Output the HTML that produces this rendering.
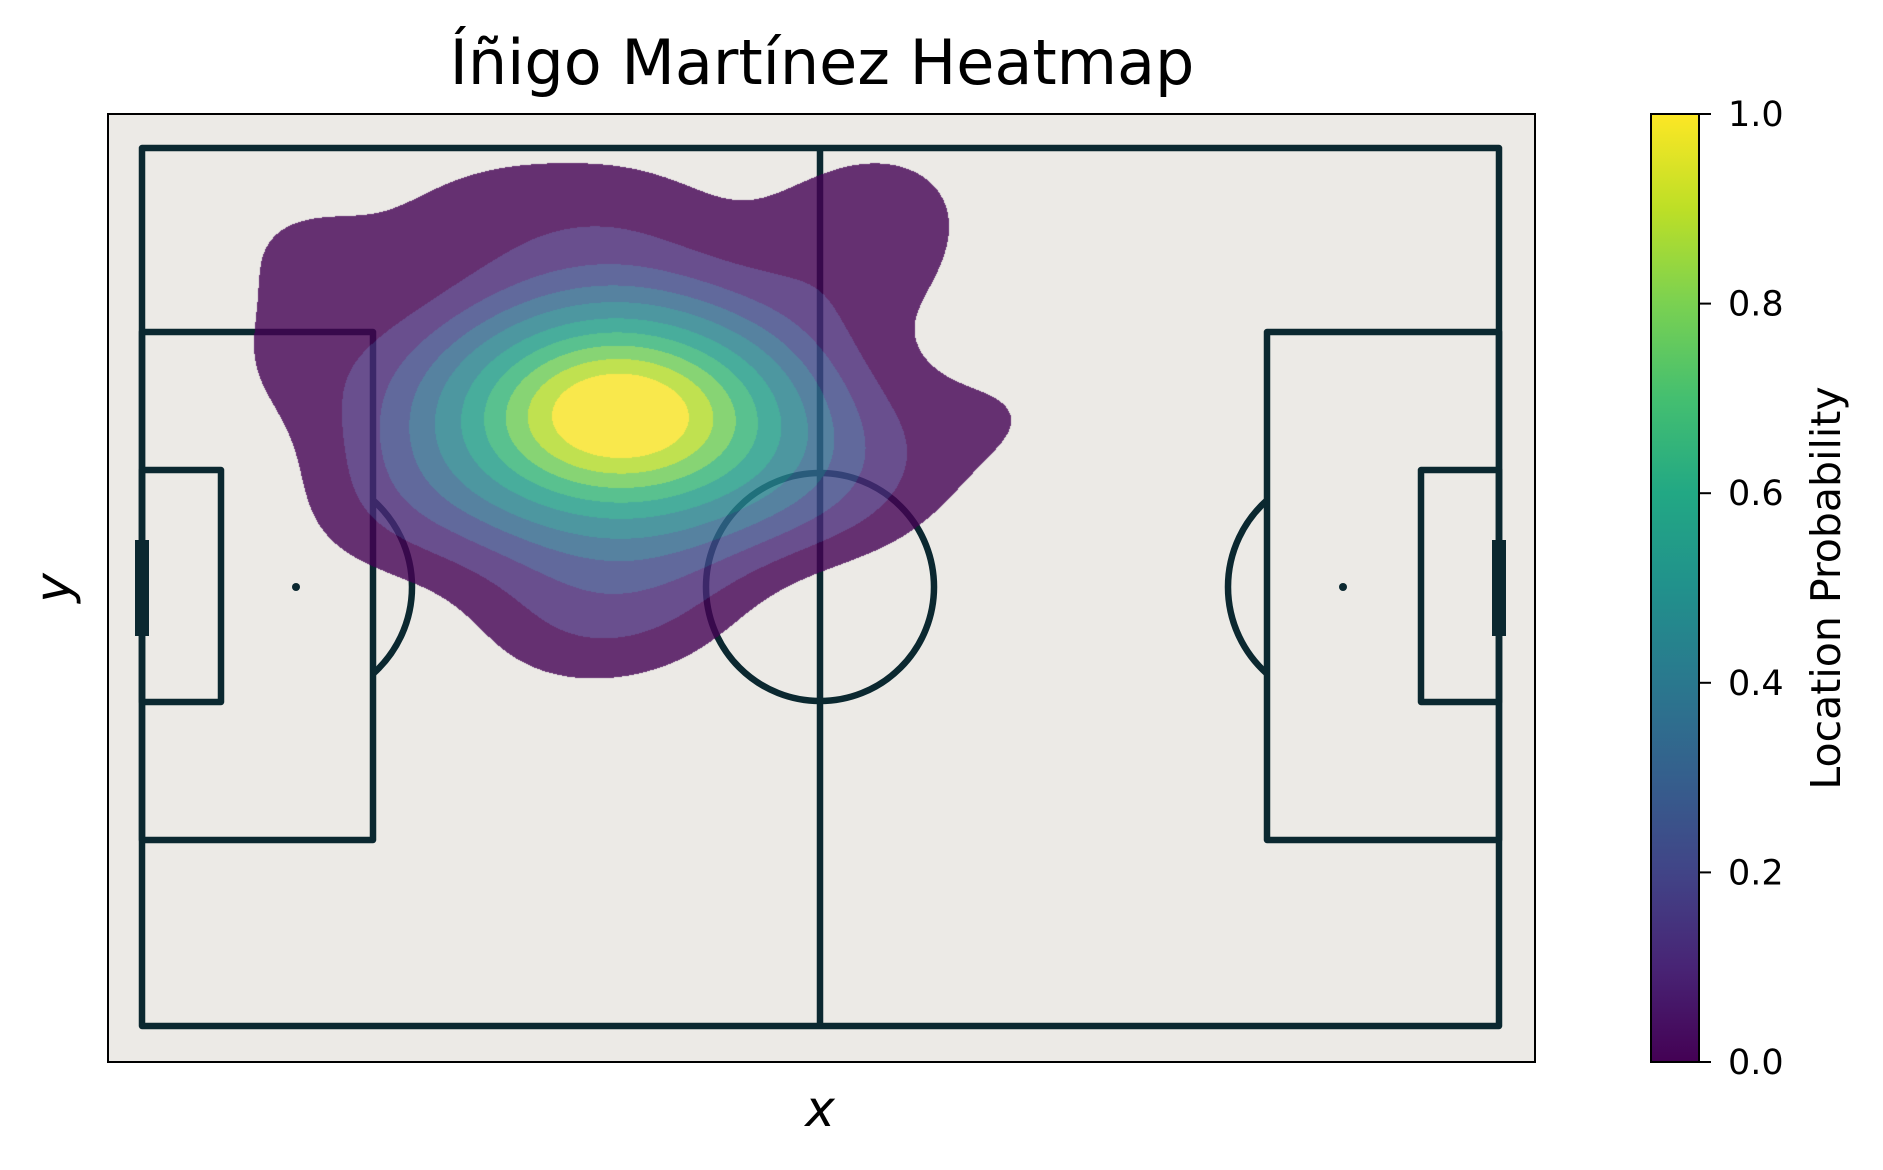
<!DOCTYPE html>
<html><head><meta charset="utf-8"><style>
html,body{margin:0;padding:0;background:#fff;}
#wrap{position:relative;width:1883px;height:1170px;overflow:hidden;font-family:"DejaVu Sans","Liberation Sans",sans-serif;}
svg{position:absolute;left:0;top:0;}
canvas{position:absolute;left:0;top:0;}
</style></head><body>
<div id="wrap">
<svg id="bg" width="1883" height="1170">
  <rect x="108" y="114" width="1427" height="948" fill="#eceae6"/>
  <g id="pitch" fill="none" stroke="#0b2830" stroke-width="6.5" stroke-linejoin="round"></g>
</svg>
<canvas id="heat" width="1883" height="1170"></canvas>
<svg id="fg" width="1883" height="1170">
  <text x="822" y="84" font-size="62" text-anchor="middle" fill="#000">Íñigo Martínez Heatmap</text>
  <rect x="108" y="114" width="1427" height="948" fill="none" stroke="#000" stroke-width="2"/>
  <text x="820" y="1126" font-size="50" font-style="italic" text-anchor="middle">x</text>
  <text x="0" y="0" font-size="50" font-style="italic" text-anchor="middle" transform="translate(70,588) rotate(-90)">y</text>
  <defs><linearGradient id="vir" x1="0" y1="1" x2="0" y2="0"></linearGradient></defs>
  <rect x="1651" y="114" width="48" height="948" fill="url(#vir)" stroke="#000" stroke-width="2"/>
  <g id="cbticks"></g>
  <text x="0" y="0" font-size="41" text-anchor="middle" transform="translate(1840,588) rotate(-90)">Location Probability</text>
</svg>
</div>
<script>
// touch locations in pitch units (120 x 80)
const pointX = [42,42,42,42,34,50,36,48,40,45,38,46,30,54,35,50,42,28,56,42,13,13,30,44,66,77,64,46,36,20,63];
const pointY = [24,24,24,24,24,24,23,24,22,26,26,22,20,22,30,30,16,28,28,34,8,20,5,5,4,24,32,42,44,34,11];
const levels = [0.095,0.15,0.21,0.28,0.36,0.46,0.56,0.66,0.76,0.86];
const bandColors = ["#440154","#482878","#3e4989","#31688e","#26828e","#1f9e89","#35b779","#6ece58","#b5de2b","#fde725"];
const cbTicks = [0,0.2,0.4,0.6,0.8,1.0];
const cbTickLabels = ["0.0","0.2","0.4","0.6","0.8","1.0"];

const X0=142,X1=1499,Y0=148,Y1=1026;
const NS="http://www.w3.org/2000/svg";

// pitch markings (pixel geometry)
const P=document.getElementById('pitch');
function add(tag,attrs,name){const e=document.createElementNS(NS,tag);for(const k in attrs)e.setAttribute(k,attrs[k]);


P.appendChild(e);return e;}
add('rect',{x:X0,y:Y0,width:X1-X0,height:Y1-Y0},'pitch-outline');
add('line',{x1:820,y1:Y0,x2:820,y2:Y1},'halfway-line');
add('rect',{x:X0,y:332,width:373-X0,height:840-332},'left-penalty-box');
add('rect',{x:1267,y:332,width:X1-1267,height:840-332},'right-penalty-box');
add('rect',{x:X0,y:470,width:221-X0,height:702-470},'left-six-yard-box');
add('rect',{x:1421,y:470,width:X1-1421,height:702-470},'right-six-yard-box');
add('circle',{cx:820,cy:587,r:114},'center-circle');
const lsx=296, rsx=1343, cy=587;
add('circle',{cx:lsx,cy:cy,r:4,fill:'#0b2830',stroke:'none'},'left-penalty-spot');
add('circle',{cx:rsx,cy:cy,r:4,fill:'#0b2830',stroke:'none'},'right-penalty-spot');
const ar=116, bx=373, dy=Math.sqrt(ar*ar-(bx-lsx)*(bx-lsx));
add('path',{d:`M${bx},${cy-dy} A${ar},${ar} 0 0 1 ${bx},${cy+dy}`},'left-penalty-arc');
const bx2=1267;
add('path',{d:`M${bx2},${cy-dy} A${ar},${ar} 0 0 0 ${bx2},${cy+dy}`},'right-penalty-arc');
add('rect',{x:X0-7,y:540,width:14,height:96,fill:'#0b2830',stroke:'none'},'left-goal');
add('rect',{x:X1-7,y:540,width:14,height:96,fill:'#0b2830',stroke:'none'},'right-goal');

// KDE heatmap
const cv=document.getElementById('heat'),ctx=cv.getContext('2d');
const hx=8, hy=6, step=1;
const gx0=110,gx1=1200,gy0=116,gy1=820;
const W=Math.ceil((gx1-gx0)/step),H=Math.ceil((gy1-gy0)/step);
const dens=new Float32Array(W*H);let mx=0;
const ux=p=>(p-X0)*120/(X1-X0), uy=p=>(p-Y0)*80/(Y1-Y0);
for(let j=0;j<H;j++){const v=uy(gy0+j*step);for(let i=0;i<W;i++){const u=ux(gx0+i*step);let s=0;
for(let k=0;k<pointX.length;k++){const a=(u-pointX[k])/hx,b=(v-pointY[k])/hy;s+=Math.exp(-0.5*(a*a+b*b));}
dens[j*W+i]=s;if(s>mx)mx=s;}}
ctx.globalAlpha=0.8;
for(let j=0;j<H;j++)for(let i=0;i<W;i++){const d=dens[j*W+i]/mx;let b=-1;
for(let l=0;l<levels.length;l++)if(d>=levels[l])b=l;
if(b>=0){ctx.fillStyle=bandColors[b];ctx.fillRect(gx0+i*step,gy0+j*step,step,step);}}

// colorbar
const g=document.getElementById('vir');
const vir=["#440154","#482475","#414487","#355f8d","#2a788e","#21918c","#22a884","#44bf70","#7ad151","#bddf26","#fde725"];
vir.forEach((c,i)=>{const s=document.createElementNS(NS,'stop');s.setAttribute('offset',i/10);s.setAttribute('stop-color',c);g.appendChild(s);});
const T=document.getElementById('cbticks');
const cbY=v=>1062-948*v;
cbTicks.forEach((t,i)=>{
 const l=document.createElementNS(NS,'line');
 l.setAttribute('x1',1699);l.setAttribute('x2',1711);l.setAttribute('y1',cbY(t));l.setAttribute('y2',cbY(t));l.setAttribute('stroke','#000');l.setAttribute('stroke-width',2);
 
 
 T.appendChild(l);
 const tx=document.createElementNS(NS,'text');
 tx.setAttribute('x',1728);tx.setAttribute('y',cbY(t)+12);tx.setAttribute('font-size',35);
 tx.textContent=cbTickLabels[i];
 
 
 T.appendChild(tx);
});
</script>
</body></html>
